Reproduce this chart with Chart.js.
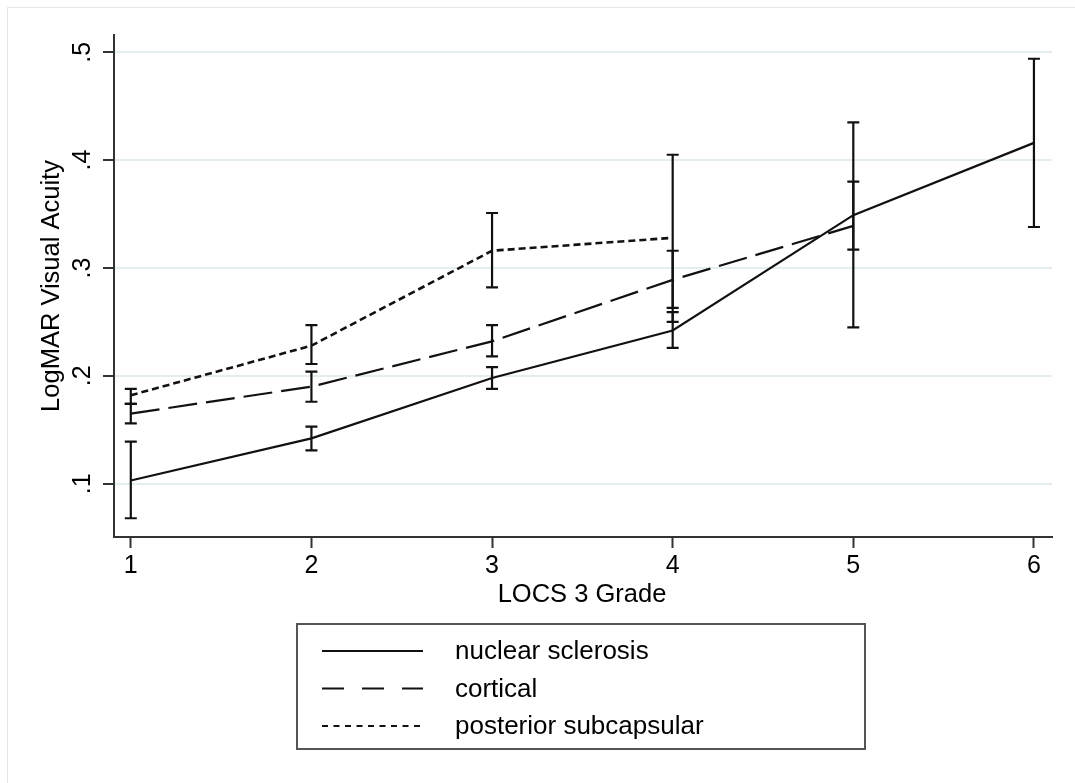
<!DOCTYPE html>
<html lang="en">
<head>
    <meta charset="UTF-8">
    <script src="https://cdn.jsdelivr.net/npm/chart.js"></script>
    <title>LogMAR by LOCS 3 Grade</title>
</head>
<style>
    body {
        margin: 0;
        background: #fff;
    }

    .chart-container {
        width: 1075px;
        height: 783px;
    }
</style>
<body>
<div class="chart-container">
    <canvas id="locs-chart"></canvas>
</div>

<script>
    // values
    const grades = [1, 2, 3, 4, 5, 6];
    const yTicks = [0.1, 0.2, 0.3, 0.4, 0.5];
    const yTickLabels = ['.1', '.2', '.3', '.4', '.5'];

    const nuclear   = [0.103, 0.142, 0.198, 0.242, 0.349, 0.416];
    const nuclearLo = [0.068, 0.131, 0.188, 0.226, 0.317, 0.338];
    const nuclearHi = [0.139, 0.153, 0.208, 0.259, 0.380, 0.494];

    const cortical   = [0.165, 0.190, 0.232, 0.289, 0.339];
    const corticalLo = [0.156, 0.176, 0.218, 0.263, 0.245];
    const corticalHi = [0.174, 0.204, 0.247, 0.316, 0.435];

    const psc   = [0.182, 0.228, 0.316, 0.328];
    const pscLo = [0.174, 0.211, 0.282, 0.250];
    const pscHi = [0.188, 0.247, 0.351, 0.405];

    const seriesNames = ['nuclear sclerosis', 'cortical', 'posterior subcapsular'];
    const seriesValues = [nuclear, cortical, psc];
    const seriesLo = [nuclearLo, corticalLo, pscLo];
    const seriesHi = [nuclearHi, corticalHi, pscHi];
    const dashes = [[], [29, 9], [7, 4]];
    const legendDashes = [[], [22, 18], [6, 5.5]];

    const FONT = '"Liberation Sans", Arial, sans-serif';
    const INK = '#111';

    const toPoints = vals => vals.map((v, i) => ({x: grades[i], y: v}));

    // error bars, titles, rotated y labels, legend box
    const stataBits = {
        id: 'stataBits',
        beforeDraw(chart) {
            const c = chart.ctx;
            c.save();
            c.strokeStyle = '#e6e6e6';
            c.lineWidth = 1;
            c.strokeRect(7.5, 7.5, 1200, 1200);
            c.restore();
        },
        afterDatasetsDraw(chart) {
            const c = chart.ctx;
            const xs = chart.scales.x, ys = chart.scales.y;
            c.save();
            c.strokeStyle = INK;
            c.lineWidth = 2.2;
            seriesLo.forEach((lo, s) => {
                lo.forEach((l, i) => {
                    const px = xs.getPixelForValue(grades[i]);
                    const y1 = ys.getPixelForValue(l);
                    const y2 = ys.getPixelForValue(seriesHi[s][i]);
                    c.beginPath();
                    c.moveTo(px, y1); c.lineTo(px, y2);
                    c.moveTo(px - 6, y1); c.lineTo(px + 6, y1);
                    c.moveTo(px - 6, y2); c.lineTo(px + 6, y2);
                    c.stroke();
                });
            });
            c.restore();
        },
        afterDraw(chart) {
            const c = chart.ctx;
            const ys = chart.scales.y;
            const area = chart.chartArea;
            c.save();
            c.fillStyle = '#000';

            // rotated y tick labels
            c.font = '25px ' + FONT;
            c.textAlign = 'center';
            c.textBaseline = 'middle';
            yTicks.forEach((v, i) => {
                c.save();
                c.translate(83, ys.getPixelForValue(v));
                c.rotate(-Math.PI / 2);
                c.fillText(yTickLabels[i], 0, 0);
                c.restore();
            });

            // axis titles
            c.font = '25.5px ' + FONT;
            c.save();
            c.translate(52, (area.top + area.bottom) / 2);
            c.rotate(-Math.PI / 2);
            c.fillText('LogMAR Visual Acuity', 0, 0);
            c.restore();
            c.fillText('LOCS 3 Grade', (area.left + area.right) / 2 - 1, 595);

            // legend
            const lx = 297, ly = 624, lw = 568, lh = 125;
            c.strokeStyle = '#555';
            c.lineWidth = 2;
            c.strokeRect(lx, ly, lw, lh);
            c.font = '26px ' + FONT;
            c.textAlign = 'left';
            seriesNames.forEach((name, i) => {
                const ry = 651 + i * 37.5;
                c.strokeStyle = INK;
                c.lineWidth = 2.2;
                c.setLineDash(legendDashes[i]);
                c.beginPath();
                c.moveTo(322, ry); c.lineTo(423, ry);
                c.stroke();
                c.setLineDash([]);
                c.fillText(name, 455, ry + 1);
            });
            c.restore();
        }
    };

    const ctx = document.getElementById('locs-chart');
    new Chart(ctx, {
        type: 'line',
        data: {
            datasets: seriesValues.map((vals, i) => ({
                label: seriesNames[i],
                data: toPoints(vals),
                borderColor: INK,
                borderWidth: i === 2 ? 2.6 : 2.2,
                borderDash: dashes[i],
                pointRadius: 0,
                tension: 0,
                fill: false
            }))
        },
        options: {
            responsive: true,
            maintainAspectRatio: false,
            animation: false,
            layout: {
                padding: {top: 35, right: 23, left: 0, bottom: 0}
            },
            plugins: {
                legend: {display: false},
                tooltip: {enabled: false}
            },
            scales: {
                x: {
                    type: 'linear',
                    min: 0.907,
                    max: 6.10,
                    afterBuildTicks: s => { s.ticks = grades.map(v => ({value: v})); },
                    afterFit: s => { s.height = 246; },
                    grid: {
                        drawOnChartArea: false,
                        tickLength: 11,
                        tickColor: '#333',
                        tickWidth: 2
                    },
                    border: {color: '#333', width: 2},
                    ticks: {
                        color: '#000',
                        padding: 3,
                        font: {family: FONT, size: 25},
                        callback: v => String(v)
                    }
                },
                y: {
                    min: 0.0506,
                    max: 0.516,
                    afterBuildTicks: s => { s.ticks = yTicks.map(v => ({value: v})); },
                    afterFit: s => { s.width = 114; },
                    grid: {
                        color: '#e4eef0',
                        lineWidth: 2,
                        tickLength: 11,
                        tickColor: '#333',
                        tickWidth: 2
                    },
                    border: {color: '#333', width: 2},
                    ticks: {display: false}
                }
            }
        },
        plugins: [stataBits]
    });
</script>
</body>
</html>
